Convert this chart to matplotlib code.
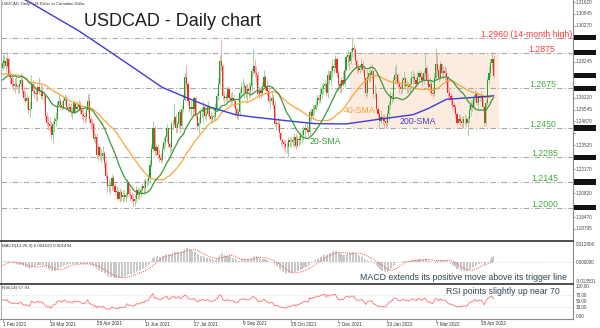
import numpy as np
import pandas as pd
import matplotlib
matplotlib.use("Agg")
import matplotlib.pyplot as plt
import matplotlib.transforms as mtransforms
from matplotlib.patches import Rectangle
from matplotlib.lines import Line2D

plt.rcParams['font.family'] = ['Liberation Sans', 'DejaVu Sans']

# ------------------------------------------------------------------ data
# daily closes used only to warm up the moving averages / oscillators
# (1 Dec 2020 .. 29 Jan 2021)
warmup_closes = [
    1.2960, 1.2930, 1.2880, 1.2800,
    1.2810, 1.2800, 1.2760, 1.2770, 1.2760,
    1.2750, 1.2740, 1.2730, 1.2700, 1.2740,
    1.2860, 1.2880, 1.2850, 1.2850,
    1.2860, 1.2820, 1.2760, 1.2730,
    1.2760, 1.2700, 1.2660, 1.2680, 1.2700,
    1.2780, 1.2700, 1.2710, 1.2650, 1.2740,
    1.2760, 1.2720, 1.2640, 1.2620, 1.2730,
    1.2720, 1.2700, 1.2830, 1.2780, 1.2790,
]

# USDCAD daily bars, 1 Feb 2021 .. 28 Apr 2022 (open = previous close)
closes = [
    # Feb 2021
    1.2820, 1.2830, 1.2800, 1.2840, 1.2750, 1.2730, 1.2700, 1.2690, 1.2700, 1.2690,
    1.2680, 1.2700, 1.2720, 1.2660, 1.2620, 1.2600, 1.2620, 1.2550, 1.2560, 1.2700,
    # Mar 2021
    1.2660, 1.2650, 1.2640, 1.2680, 1.2660, 1.2660, 1.2630, 1.2630, 1.2520, 1.2480,
    1.2470, 1.2460, 1.2410, 1.2470, 1.2490, 1.2500, 1.2580, 1.2600, 1.2580, 1.2570,
    1.2600, 1.2620, 1.2570,
    # Apr 2021
    1.2560, 1.2570, 1.2540, 1.2540, 1.2590, 1.2560, 1.2570, 1.2580, 1.2550, 1.2530,
    1.2520, 1.2510, 1.2550, 1.2600, 1.2500, 1.2480, 1.2470, 1.2390, 1.2400, 1.2300,
    1.2340, 1.2290,
    # May 2021
    1.2290, 1.2310, 1.2250, 1.2180, 1.2120, 1.2130, 1.2120, 1.2170, 1.2120, 1.2090,
    1.2090, 1.2050, 1.2090, 1.2060, 1.2070, 1.2060, 1.2070, 1.2140, 1.2080, 1.2070,
    1.2050,
    # Jun 2021
    1.2040, 1.2050, 1.2100, 1.2070, 1.2090, 1.2100, 1.2120, 1.2110, 1.2150, 1.2150,
    1.2170, 1.2240, 1.2330, 1.2450, 1.2320, 1.2340, 1.2300, 1.2280, 1.2270, 1.2330,
    1.2370, 1.2400,
    # Jul 2021
    1.2450, 1.2360, 1.2340, 1.2470, 1.2470, 1.2510, 1.2450, 1.2470, 1.2540, 1.2460,
    1.2560, 1.2610, 1.2740, 1.2700, 1.2600, 1.2560, 1.2570, 1.2560, 1.2620, 1.2520,
    1.2460, 1.2480,
    # Aug 2021
    1.2540, 1.2540, 1.2570, 1.2520, 1.2530, 1.2570, 1.2520, 1.2500, 1.2510, 1.2520,
    1.2560, 1.2630, 1.2700, 1.2830, 1.2800, 1.2630, 1.2620, 1.2620, 1.2670, 1.2620,
    1.2610, 1.2620,
    # Sep 2021
    1.2600, 1.2560, 1.2530, 1.2540, 1.2650, 1.2680, 1.2680, 1.2690, 1.2650, 1.2670,
    1.2660, 1.2690, 1.2770, 1.2800, 1.2760, 1.2750, 1.2640, 1.2660, 1.2650, 1.2680,
    1.2740, 1.2680,
    # Oct 2021
    1.2660, 1.2600, 1.2600, 1.2620, 1.2580, 1.2470, 1.2480, 1.2470, 1.2420, 1.2380,
    1.2370, 1.2360, 1.2340, 1.2340, 1.2380, 1.2370, 1.2370, 1.2380, 1.2400, 1.2350,
    1.2390,
    # Nov 2021
    1.2380, 1.2410, 1.2410, 1.2440, 1.2450, 1.2440, 1.2430, 1.2540, 1.2520, 1.2560,
    1.2560, 1.2580, 1.2620, 1.2610, 1.2640, 1.2670, 1.2690, 1.2700, 1.2650, 1.2750,
    1.2720, 1.2770,
    # Dec 2021
    1.2800, 1.2790, 1.2840, 1.2760, 1.2700, 1.2690, 1.2720, 1.2700, 1.2780, 1.2850,
    1.2860, 1.2830, 1.2880, 1.2900, 1.2890, 1.2830, 1.2790, 1.2780, 1.2790, 1.2810,
    1.2780, 1.2730, 1.2650,
    # Jan 2022
    1.2740, 1.2760, 1.2750, 1.2770, 1.2640, 1.2640, 1.2560, 1.2530, 1.2490, 1.2510,
    1.2500, 1.2490, 1.2480, 1.2530, 1.2580, 1.2630, 1.2620, 1.2720, 1.2750, 1.2750,
    1.2700,
    # Feb 2022
    1.2680, 1.2670, 1.2720, 1.2730, 1.2690, 1.2690, 1.2680, 1.2700, 1.2730, 1.2740,
    1.2720, 1.2700, 1.2740, 1.2760, 1.2740, 1.2720, 1.2760, 1.2790, 1.2720, 1.2680,
    # Mar 2022
    1.2700, 1.2650, 1.2640, 1.2730, 1.2810, 1.2780, 1.2730, 1.2810, 1.2760, 1.2770,
    1.2760, 1.2740, 1.2650, 1.2630, 1.2610, 1.2580, 1.2570, 1.2530, 1.2480, 1.2500,
    1.2490, 1.2480, 1.2500,
    # Apr 2022
    1.2500, 1.2480, 1.2500, 1.2550, 1.2580, 1.2570, 1.2620, 1.2640, 1.2590, 1.2630,
    1.2620, 1.2630, 1.2570, 1.2480, 1.2590, 1.2720, 1.2760, 1.2820, 1.2840, 1.27454,
]

highs = [
    # Feb 2021
    1.2860, 1.2870, 1.2850, 1.2880, 1.2850, 1.2780, 1.2750, 1.2730, 1.2730, 1.2740,
    1.2700, 1.2720, 1.2760, 1.2730, 1.2680, 1.2660, 1.2640, 1.2630, 1.2600, 1.2750,
    # Mar 2021
    1.2720, 1.2700, 1.2680, 1.2700, 1.2740, 1.2700, 1.2690, 1.2660, 1.2640, 1.2540,
    1.2520, 1.2510, 1.2490, 1.2490, 1.2510, 1.2540, 1.2600, 1.2640, 1.2620, 1.2610,
    1.2620, 1.2640, 1.2630,
    # Apr 2021
    1.2590, 1.2590, 1.2590, 1.2570, 1.2610, 1.2600, 1.2600, 1.2610, 1.2600, 1.2570,
    1.2560, 1.2540, 1.2570, 1.2640, 1.2650, 1.2520, 1.2500, 1.2480, 1.2420, 1.2420,
    1.2360, 1.2350,
    # May 2021
    1.2330, 1.2350, 1.2320, 1.2270, 1.2200, 1.2160, 1.2150, 1.2190, 1.2180, 1.2140,
    1.2120, 1.2110, 1.2110, 1.2100, 1.2100, 1.2100, 1.2090, 1.2160, 1.2150, 1.2110,
    1.2090,
    # Jun 2021
    1.2080, 1.2080, 1.2120, 1.2110, 1.2110, 1.2120, 1.2140, 1.2160, 1.2170, 1.2170,
    1.2190, 1.2270, 1.2360, 1.2488, 1.2460, 1.2360, 1.2360, 1.2330, 1.2310, 1.2350,
    1.2400, 1.2410,
    # Jul 2021
    1.2470, 1.2450, 1.2370, 1.2490, 1.2500, 1.2590, 1.2530, 1.2490, 1.2560, 1.2550,
    1.2580, 1.2640, 1.2760, 1.2808, 1.2710, 1.2620, 1.2600, 1.2590, 1.2630, 1.2630,
    1.2530, 1.2510,
    # Aug 2021
    1.2560, 1.2570, 1.2600, 1.2580, 1.2550, 1.2600, 1.2580, 1.2540, 1.2530, 1.2540,
    1.2590, 1.2650, 1.2730, 1.2860, 1.2949, 1.2810, 1.2660, 1.2650, 1.2690, 1.2680,
    1.2650, 1.2660,
    # Sep 2021
    1.2640, 1.2610, 1.2570, 1.2560, 1.2670, 1.2710, 1.2730, 1.2710, 1.2700, 1.2700,
    1.2710, 1.2710, 1.2790, 1.2896, 1.2840, 1.2800, 1.2770, 1.2690, 1.2690, 1.2710,
    1.2775, 1.2750,
    # Oct 2021
    1.2720, 1.2680, 1.2630, 1.2660, 1.2640, 1.2600, 1.2500, 1.2510, 1.2490, 1.2430,
    1.2390, 1.2390, 1.2380, 1.2370, 1.2400, 1.2400, 1.2400, 1.2400, 1.2420, 1.2420,
    1.2410,
    # Nov 2021
    1.2410, 1.2430, 1.2440, 1.2460, 1.2480, 1.2480, 1.2460, 1.2560, 1.2560, 1.2580,
    1.2580, 1.2610, 1.2640, 1.2640, 1.2680, 1.2700, 1.2710, 1.2720, 1.2710, 1.2780,
    1.2770, 1.2800,
    # Dec 2021
    1.2840, 1.2840, 1.2860, 1.2850, 1.2780, 1.2720, 1.2740, 1.2770, 1.2800, 1.2860,
    1.2890, 1.2870, 1.2900, 1.2964, 1.2930, 1.2900, 1.2840, 1.2810, 1.2810, 1.2840,
    1.2830, 1.2800, 1.2740,
    # Jan 2022
    1.2780, 1.2790, 1.2810, 1.2810, 1.2780, 1.2700, 1.2660, 1.2570, 1.2550, 1.2550,
    1.2530, 1.2530, 1.2520, 1.2550, 1.2600, 1.2660, 1.2650, 1.2740, 1.2800, 1.2810,
    1.2760,
    # Feb 2022
    1.2720, 1.2700, 1.2740, 1.2770, 1.2740, 1.2720, 1.2710, 1.2730, 1.2770, 1.2780,
    1.2760, 1.2740, 1.2770, 1.2780, 1.2770, 1.2760, 1.2780, 1.2879, 1.2800, 1.2760,
    # Mar 2022
    1.2740, 1.2720, 1.2680, 1.2760, 1.2900, 1.2870, 1.2800, 1.2830, 1.2820, 1.2800,
    1.2800, 1.2790, 1.2750, 1.2680, 1.2650, 1.2640, 1.2600, 1.2580, 1.2540, 1.2530,
    1.2530, 1.2520, 1.2520,
    # Apr 2022
    1.2530, 1.2520, 1.2520, 1.2580, 1.2610, 1.2610, 1.2640, 1.2670, 1.2660, 1.2650,
    1.2640, 1.2660, 1.2640, 1.2580, 1.2610, 1.2740, 1.2800, 1.2840, 1.2878, 1.2860,
]

lows = [
    # Feb 2021
    1.2780, 1.2790, 1.2770, 1.2790, 1.2740, 1.2700, 1.2680, 1.2660, 1.2650, 1.2670,
    1.2650, 1.2650, 1.2680, 1.2650, 1.2600, 1.2590, 1.2560, 1.2530, 1.2510, 1.2560,
    # Mar 2021
    1.2640, 1.2620, 1.2600, 1.2600, 1.2640, 1.2620, 1.2610, 1.2590, 1.2500, 1.2460,
    1.2440, 1.2430, 1.2390, 1.2365, 1.2430, 1.2460, 1.2490, 1.2570, 1.2560, 1.2550,
    1.2560, 1.2580, 1.2550,
    # Apr 2021
    1.2540, 1.2540, 1.2520, 1.2500, 1.2530, 1.2540, 1.2540, 1.2550, 1.2530, 1.2500,
    1.2490, 1.2480, 1.2490, 1.2540, 1.2480, 1.2450, 1.2430, 1.2370, 1.2360, 1.2280,
    1.2270, 1.2270,
    # May 2021
    1.2260, 1.2270, 1.2230, 1.2160, 1.2090, 1.2090, 1.2080, 1.2100, 1.2100, 1.2070,
    1.2060, 1.2040, 1.2030, 1.2040, 1.2030, 1.2040, 1.2030, 1.2060, 1.2060, 1.2040,
    1.2030,
    # Jun 2021
    1.2007, 1.2010, 1.2030, 1.2050, 1.2050, 1.2060, 1.2080, 1.2080, 1.2090, 1.2120,
    1.2130, 1.2140, 1.2230, 1.2320, 1.2300, 1.2290, 1.2280, 1.2260, 1.2250, 1.2260,
    1.2320, 1.2350,
    # Jul 2021
    1.2370, 1.2340, 1.2310, 1.2320, 1.2440, 1.2460, 1.2420, 1.2430, 1.2450, 1.2430,
    1.2450, 1.2540, 1.2600, 1.2670, 1.2580, 1.2540, 1.2520, 1.2520, 1.2540, 1.2500,
    1.2440, 1.2420,
    # Aug 2021
    1.2470, 1.2510, 1.2480, 1.2500, 1.2490, 1.2520, 1.2500, 1.2480, 1.2480, 1.2490,
    1.2500, 1.2550, 1.2610, 1.2690, 1.2770, 1.2610, 1.2590, 1.2600, 1.2600, 1.2600,
    1.2580, 1.2590,
    # Sep 2021
    1.2570, 1.2520, 1.2500, 1.2500, 1.2520, 1.2630, 1.2650, 1.2620, 1.2620, 1.2590,
    1.2620, 1.2630, 1.2660, 1.2750, 1.2740, 1.2710, 1.2630, 1.2620, 1.2620, 1.2630,
    1.2680, 1.2660,
    # Oct 2021
    1.2630, 1.2590, 1.2560, 1.2580, 1.2560, 1.2460, 1.2440, 1.2440, 1.2400, 1.2360,
    1.2340, 1.2330, 1.2310, 1.2310, 1.2288, 1.2340, 1.2340, 1.2350, 1.2340, 1.2330,
    1.2340,
    # Nov 2021
    1.2350, 1.2360, 1.2370, 1.2380, 1.2400, 1.2420, 1.2400, 1.2410, 1.2490, 1.2500,
    1.2530, 1.2550, 1.2570, 1.2590, 1.2590, 1.2620, 1.2640, 1.2660, 1.2630, 1.2620,
    1.2700, 1.2690,
    # Dec 2021
    1.2740, 1.2760, 1.2770, 1.2740, 1.2660, 1.2650, 1.2650, 1.2690, 1.2690, 1.2770,
    1.2800, 1.2780, 1.2810, 1.2850, 1.2850, 1.2810, 1.2760, 1.2760, 1.2760, 1.2770,
    1.2760, 1.2720, 1.2620,
    # Jan 2022
    1.2630, 1.2710, 1.2710, 1.2720, 1.2620, 1.2620, 1.2550, 1.2500, 1.2450, 1.2480,
    1.2470, 1.2450, 1.2450, 1.2460, 1.2490, 1.2560, 1.2590, 1.2600, 1.2700, 1.2710,
    1.2680,
    # Feb 2022
    1.2650, 1.2640, 1.2650, 1.2680, 1.2670, 1.2650, 1.2650, 1.2640, 1.2670, 1.2700,
    1.2700, 1.2680, 1.2690, 1.2710, 1.2710, 1.2690, 1.2700, 1.2730, 1.2700, 1.2660,
    # Mar 2022
    1.2640, 1.2630, 1.2620, 1.2630, 1.2720, 1.2750, 1.2710, 1.2720, 1.2740, 1.2730,
    1.2720, 1.2700, 1.2620, 1.2600, 1.2580, 1.2560, 1.2540, 1.2510, 1.2460, 1.2470,
    1.2460, 1.2450, 1.2450,
    # Apr 2022
    1.2470, 1.2460, 1.2403, 1.2480, 1.2520, 1.2540, 1.2560, 1.2600, 1.2580, 1.2550,
    1.2600, 1.2600, 1.2550, 1.2460, 1.2460, 1.2580, 1.2700, 1.2740, 1.2780, 1.2730,
]

# 200-day SMA (bar number, value)
sma200_bars = [0, 16, 33, 50, 66, 88, 105, 121, 136, 153, 164, 183, 205, 226, 248, 270, 280, 292, 313, 323]
sma200_vals = [1.3230, 1.3170, 1.3085, 1.3000, 1.2908, 1.2780, 1.2680, 1.2622, 1.2570, 1.2526,
               1.2513, 1.2495, 1.2475, 1.2473, 1.2500, 1.2525, 1.2560, 1.2612, 1.2625, 1.2632]

levels = [1.2960, 1.2875, 1.2675, 1.2450, 1.2285, 1.2145, 1.2000]
level_labels = ['1.2960 (14-month high)', '1.2875', '1.2675', '1.2450', '1.2285', '1.2145', '1.2000']
level_colors = ['#ff3b3b', '#ff3b3b', '#3fae3f', '#3fae3f', '#3fae3f', '#3fae3f', '#3fae3f']
level_label_right = [572, 555, 556, 556, 558, 558, 558]   # pixel x of label end

range_top, range_bottom = 1.2875, 1.2450
range_first_day = '2021-12-17'

date_ticks = ['2021-02-01', '2021-03-16', '2021-04-28', '2021-06-11', '2021-07-27', '2021-09-09',
              '2021-10-25', '2021-12-07', '2022-01-20', '2022-03-07', '2022-04-18']
date_tick_labels = ['1 Feb 2021', '16 Mar 2021', '28 Apr 2021', '11 Jun 2021', '27 Jul 2021', '9 Sep 2021',
                    '25 Oct 2021', '7 Dec 2021', '20 Jan 2022', '7 Mar 2022', '18 Apr 2022']

price_ticks = [1.31620, 1.30945, 1.30270, 1.29595, 1.28920, 1.28245, 1.27570, 1.26895, 1.26220, 1.25545,
               1.24870, 1.24195, 1.23520, 1.22845, 1.22170, 1.21495, 1.20820, 1.20145, 1.19470, 1.18795]
price_boxes = [1.29600, 1.28750, 1.26750, 1.24500, 1.22850, 1.21450, 1.20000]
macd_ticks = [0.012806, 0.0, -0.013501]
rsi_ticks = [100, 70, 50, 30, 0]

# ------------------------------------------------------------------ indicators
n_warm = len(warmup_closes)
full = pd.Series(warmup_closes + closes, dtype=float)
c = np.array(closes)
o = np.concatenate([[warmup_closes[-1]], c[:-1]])
h = np.maximum(np.array(highs), np.maximum(o, c))
l = np.minimum(np.array(lows), np.minimum(o, c))
n = len(c)
idx = np.arange(n)

sma20 = full.rolling(20).mean().values[n_warm:]
sma40 = full.rolling(40).mean().values[n_warm:]
macd_line = full.ewm(span=12, adjust=False).mean() - full.ewm(span=26, adjust=False).mean()
macd_sig = macd_line.rolling(9).mean()
macd_line = macd_line.values[n_warm:]
macd_sig = macd_sig.values[n_warm:]
delta = full.diff()
gain = delta.clip(lower=0).ewm(alpha=1 / 14, adjust=False).mean()
loss = (-delta.clip(upper=0)).ewm(alpha=1 / 14, adjust=False).mean()
rsi = (100 - 100 / (1 + gain / loss)).values[n_warm:]

days = pd.bdate_range('2021-02-01', '2022-04-28')
day_pos = {d.strftime('%Y-%m-%d'): i for i, d in enumerate(days)}

# ------------------------------------------------------------------ layout
W, H = 600, 328
fig = plt.figure(figsize=(W / 100, H / 100), dpi=100)
fig.patch.set_facecolor('white')


def frac_box(x0, y0, x1, y1):
    return [x0 / W, 1 - y1 / H, (x1 - x0) / W, (y1 - y0) / H]


X_LIM = (-1.0, 375.3)
ax = fig.add_axes(frac_box(1, 0, 573, 241))
axm = fig.add_axes(frac_box(1, 242, 573, 284))
axr = fig.add_axes(frac_box(1, 285, 573, 319))
for a in (ax, axm, axr):
    a.set_xlim(*X_LIM)
    a.set_xticks([])
    a.set_yticks([])
    for s in a.spines.values():
        s.set_visible(False)
    a.patch.set_alpha(0)

ax.set_ylim(1.18117, 1.31733)
axm.set_ylim(-0.0156, 0.0146)
axr.set_ylim(-10, 105)

# ------------------------------------------------------------------ price panel
x_first = day_pos[range_first_day] - 0.5
ax.add_patch(Rectangle((x_first, range_bottom), (n - 1 + 3.5) - x_first, range_top - range_bottom,
                       facecolor='#fcece0', edgecolor='none', zorder=0))

for lv in levels:
    ax.axhline(lv, color='#a8a8a8', lw=0.8, ls=(0, (5, 2, 1, 2)), zorder=1)

up = c >= o
dn = ~up
ax.vlines(idx[up], l[up], h[up], color='#9fd49f', lw=0.7, zorder=3)
ax.vlines(idx[dn], l[dn], h[dn], color='#f9aaaa', lw=0.7, zorder=3)
body_lo = np.minimum(o, c)
body_h = np.maximum(np.abs(c - o), 0.0003)
ax.bar(idx[up], body_h[up], bottom=body_lo[up], width=0.75, color='#22a022', lw=0, zorder=4)
ax.bar(idx[dn], body_h[dn], bottom=body_lo[dn], width=0.75, color='#ff2424', lw=0, zorder=4)

ax.plot(idx, sma40, color='#ffa43a', lw=0.9, zorder=5)
ax.plot(idx, sma20, color='#3a9a3a', lw=0.9, zorder=6)
ax.plot(sma200_bars, sma200_vals, color='#3c3cd2', lw=1.0, zorder=5)

lab_tr = mtransforms.blended_transform_factory(fig.transFigure, ax.transData)
for lv, txt, col, xr in zip(levels, level_labels, level_colors, level_label_right):
    ax.text(xr / W, lv + 0.0006, txt, transform=lab_tr, ha='right', va='baseline',
            fontsize=6.3, color=col, zorder=8)


def ptext(x, y, s, **kw):
    fig.text(x / W, 1 - y / H, s, **kw)


ptext(172, 26.5, 'USDCAD - Daily chart', ha='center', va='baseline', fontsize=13, color='#1e1e1e')
ptext(2, 3.5, 'USDCAD, Daily:  US Dollar vs Canadian Dollar', ha='left', va='center', fontsize=2.9,
      color='#333333')
ptext(344, 110, '40-SMA', ha='left', va='center', fontsize=6.3, color='#f5a040')
ptext(400, 122, '200-SMA', ha='left', va='center', fontsize=6.3, color='#4040d0')
ptext(310, 141, '20-SMA', ha='left', va='center', fontsize=6.3, color='#3a9a3a')

# ------------------------------------------------------------------ MACD panel
axm.bar(idx, macd_line, width=0.7, color='#c8c8c8', lw=0, zorder=2)
axm.plot(idx, macd_sig, color='#ff4848', lw=0.7, ls=(0, (1, 1.2)), zorder=3)
axm.axhline(0, color='#c0c0c0', lw=0.5, ls=(0, (1, 2)), zorder=1)
ptext(2, 246, 'MACD(12,26,9) 0.004623 0.001494', ha='left', va='center', fontsize=3.2, color='#333333')
ptext(567, 277, 'MACD extends its positive move above its trigger line', ha='right', va='center',
      fontsize=6.3, color='#2f4858')

# ------------------------------------------------------------------ RSI panel
axr.axhline(70, color='#c8c8c8', lw=0.5, ls=(0, (1, 2)))
axr.axhline(30, color='#c8c8c8', lw=0.5, ls=(0, (1, 2)))
axr.plot(idx, rsi, color='#ff8080', lw=0.7, zorder=3)
ptext(2, 288.5, 'RSI(14) 57.93', ha='left', va='center', fontsize=3.2, color='#333333')
ptext(560, 291, 'RSI points slightly up near 70', ha='right', va='center', fontsize=6.3, color='#2f4858')

# ------------------------------------------------------------------ frame
def pline(x0, y0, x1, y1, **kw):
    fig.add_artist(Line2D([x0 / W, x1 / W], [1 - y0 / H, 1 - y1 / H], transform=fig.transFigure, **kw))


pline(0.5, 0, 0.5, 319, color='#b0b0b0', lw=0.8)
pline(573, 0, 573, 319, color='#8a8a8a', lw=0.8)
pline(0, 241, 573, 241, color='#404040', lw=1.3)
pline(0, 284.3, 573, 284.3, color='#404040', lw=1.3)
pline(0, 319, 573, 319, color='#8a8a8a', lw=0.8)

# price scale: plain ticks, except where a boxed price label sits on top of them
last_close = closes[-1]
boxed = price_boxes + [last_close]
for v in price_ticks:
    ax.plot([573 / W, 575 / W], [v, v], transform=lab_tr, color='#8a8a8a', lw=0.5, clip_on=False)
    if min(abs(v - b) for b in boxed) < 0.0032:
        continue
    ax.text(576 / W, v, f'{v:.5f}', transform=lab_tr, ha='left', va='center', fontsize=3.3,
            color='#444444', clip_on=False)
for v in boxed:
    fig.add_artist(Rectangle((574 / W, v - 0.0015), 22 / W, 0.003, transform=lab_tr,
                             facecolor='#111111', edgecolor='none', zorder=9))
    ax.text(585 / W, v, f'{v:.5f}', transform=lab_tr, ha='center', va='center', fontsize=3.3,
            color='white', zorder=10, clip_on=False)

mtr = mtransforms.blended_transform_factory(fig.transFigure, axm.transData)
for v in macd_ticks:
    axm.text(576 / W, v, f'{v:.6f}', transform=mtr, ha='left', va='center', fontsize=3.3,
             color='#444444', clip_on=False)
rtr = mtransforms.blended_transform_factory(fig.transFigure, axr.transData)
for v in rsi_ticks:
    axr.text(576 / W, v, f'{v:.2f}', transform=rtr, ha='left', va='center', fontsize=3.3,
             color='#444444', clip_on=False)

# date scale
dtr = mtransforms.blended_transform_factory(axr.transData, fig.transFigure)
for d, txt in zip(date_ticks, date_tick_labels):
    xi = day_pos[d]
    axr.text(xi, 1 - 324 / H, txt, transform=dtr, ha='left', va='center', fontsize=3.3,
             color='#333333', clip_on=False)
    axr.plot([xi, xi], [1 - 319 / H, 1 - 321.5 / H], transform=dtr, color='#8a8a8a', lw=0.5,
             clip_on=False)

fig.savefig('out.png', dpi=100, facecolor='white')
